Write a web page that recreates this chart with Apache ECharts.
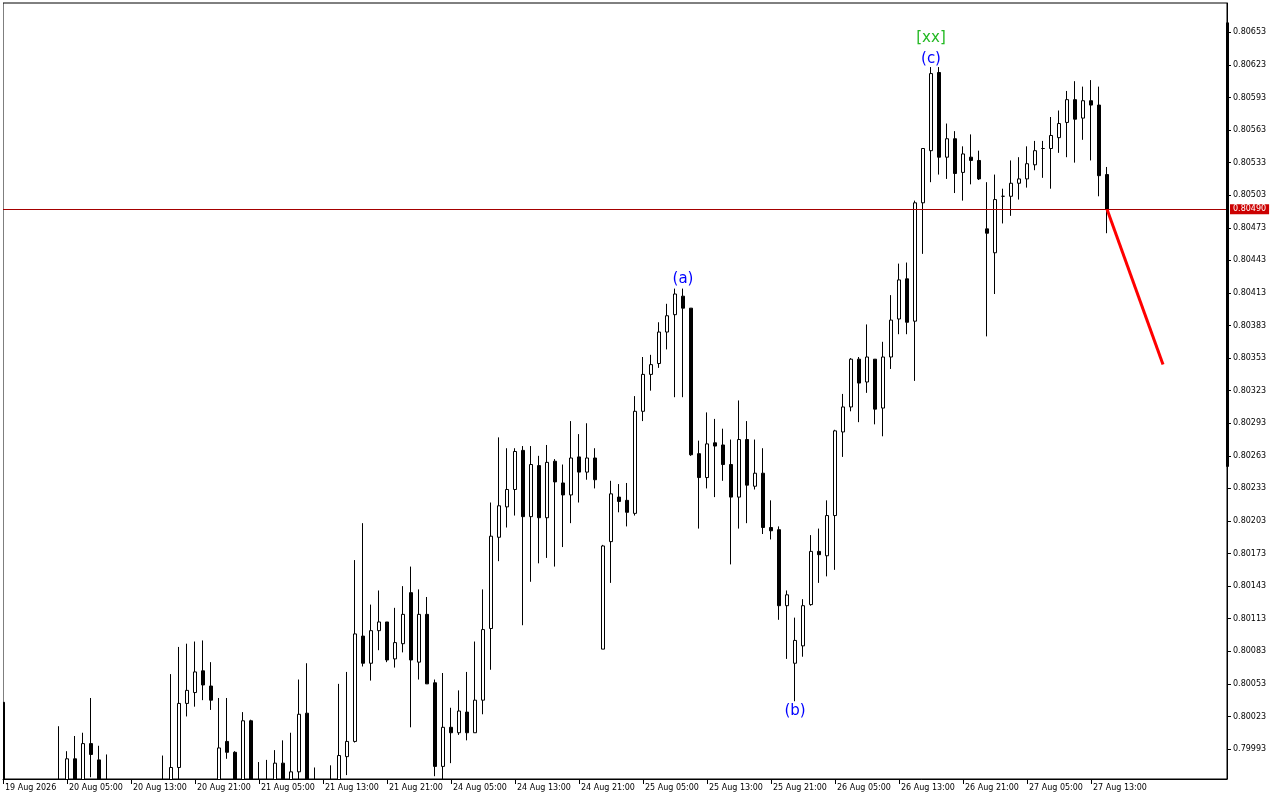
<!DOCTYPE html>
<html>
<head>
<meta charset="utf-8">
<script src="https://cdn.jsdelivr.net/npm/echarts@6/dist/echarts.min.js"></script>
<style>
html,body{margin:0;padding:0;background:#fff;}
#chart{width:1280px;height:800px;}
</style>
</head>
<body>
<div id="chart"></div>
<script>
// ---- data (H1 bars, index 0 = 19 Aug 2026 21:00) ----
const tickLabels = ["19 Aug 2026","20 Aug 05:00","20 Aug 13:00","20 Aug 21:00","21 Aug 05:00","21 Aug 13:00","21 Aug 21:00","24 Aug 05:00","24 Aug 13:00","24 Aug 21:00","25 Aug 05:00","25 Aug 13:00","25 Aug 21:00","26 Aug 05:00","26 Aug 13:00","26 Aug 21:00","27 Aug 05:00","27 Aug 13:00"];
const tickStep = 8;
const slotCount = 154;

const yTickValues = [0.79993,0.80023,0.80053,0.80083,0.80113,0.80143,0.80173,0.80203,0.80233,0.80263,0.80293,0.80323,0.80353,0.80383,0.80413,0.80443,0.80473,0.80503,0.80533,0.80563,0.80593,0.80623,0.80653];

const barOpen = [0.80036,0.79935,0.79920,0.79930,0.79945,0.79935,0.79940,0.79948,0.79955,0.79984,
0.79955,0.79998,0.79983,0.79950,0.79935,0.79925,0.79940,0.79930,0.79920,0.79935,
0.79945,0.79950,0.79976,0.80035,0.80045,0.80065,0.80051,0.79955,0.80000,0.79990,
0.79958,0.80019,0.79955,0.79950,0.79958,0.79980,0.79955,0.79972,0.80026,0.79955,
0.79950,0.79945,0.79955,0.79986,0.80000,0.80097,0.80072,0.80102,0.80110,0.80076,
0.80090,0.80137,0.80073,0.80117,0.80054,0.79977,0.80013,0.80008,0.80027,0.80008,
0.80038,0.80104,0.80188,0.80216,0.80232,0.80268,0.80207,0.80254,0.80206,0.80258,
0.80238,0.80227,0.80262,0.80248,0.80261,0.80085,0.80184,0.80225,0.80222,0.80210,
0.80304,0.80338,0.80348,0.80377,0.80393,0.80410,0.80399,0.80265,0.80243,0.80275,
0.80273,0.80255,0.80225,0.80278,0.80235,0.80247,0.80197,0.80195,0.80125,0.80072,
0.80088,0.80126,0.80175,0.80171,0.80208,0.80285,0.80308,0.80352,0.80331,0.80352,
0.80307,0.80354,0.80389,0.80426,0.80387,0.80496,0.80544,0.80616,0.80538,0.80555,
0.80524,0.80538,0.80535,0.80472,0.80450,0.80502,0.80502,0.80514,0.80518,0.80531,
0.80546,0.80546,0.80556,0.80570,0.80591,0.80574,0.80590,0.80586,0.80522];

const barHigh = [0.80037,0.79950,0.79945,0.79955,0.79958,0.79952,0.79960,0.80014,0.79991,0.80005,
0.80008,0.80040,0.79996,0.79988,0.79955,0.79950,0.79960,0.79948,0.79945,0.79958,
0.79987,0.80062,0.80087,0.80090,0.80092,0.80093,0.80073,0.80040,0.80040,0.79991,
0.80027,0.80020,0.79981,0.79983,0.79992,0.80001,0.80008,0.80057,0.80072,0.79976,
0.79962,0.79978,0.80053,0.80064,0.80167,0.80201,0.80126,0.80139,0.80110,0.80123,
0.80143,0.80161,0.80140,0.80133,0.80057,0.80063,0.80031,0.80047,0.80064,0.80092,
0.80140,0.80220,0.80280,0.80270,0.80270,0.80272,0.80272,0.80263,0.80273,0.80260,
0.80255,0.80295,0.80283,0.80293,0.80270,0.80181,0.80240,0.80237,0.80238,0.80318,
0.80354,0.80356,0.80386,0.80403,0.80417,0.80417,0.80399,0.80277,0.80303,0.80297,
0.80288,0.80278,0.80314,0.80295,0.80278,0.80270,0.80222,0.80198,0.80139,0.80114,
0.80131,0.80190,0.80196,0.80222,0.80287,0.80320,0.80353,0.80354,0.80384,0.80352,
0.80368,0.80411,0.80440,0.80441,0.80498,0.80546,0.80621,0.80621,0.80569,0.80562,
0.80548,0.80559,0.80544,0.80515,0.80522,0.80509,0.80535,0.80538,0.80548,0.80553,
0.80553,0.80575,0.80581,0.80599,0.80608,0.80603,0.80609,0.80603,0.80529];

const barLow = [0.79925,0.79910,0.79905,0.79920,0.79925,0.79920,0.79930,0.79935,0.79945,0.79940,
0.79948,0.79967,0.79940,0.79925,0.79915,0.79905,0.79920,0.79910,0.79900,0.79925,
0.79930,0.79940,0.79955,0.80023,0.80032,0.80038,0.80029,0.79945,0.79984,0.79945,
0.79950,0.79945,0.79935,0.79940,0.79950,0.79945,0.79948,0.79960,0.79945,0.79940,
0.79935,0.79938,0.79948,0.79969,0.79999,0.80069,0.80056,0.80084,0.80073,0.80068,
0.80082,0.80013,0.80057,0.80053,0.79968,0.79960,0.79980,0.80006,0.80001,0.80008,
0.80025,0.80066,0.80166,0.80197,0.80208,0.80107,0.80147,0.80164,0.80169,0.80161,
0.80179,0.80201,0.80220,0.80241,0.80233,0.80085,0.80146,0.80211,0.80198,0.80208,
0.80295,0.80323,0.80344,0.80361,0.80317,0.80317,0.80263,0.80196,0.80233,0.80225,
0.80240,0.80163,0.80196,0.80201,0.80232,0.80191,0.80186,0.80112,0.80076,0.80037,
0.80078,0.80125,0.80146,0.80152,0.80158,0.80262,0.80304,0.80294,0.80321,0.80292,
0.80281,0.80343,0.80375,0.80375,0.80332,0.80449,0.80515,0.80522,0.80518,0.80505,
0.80498,0.80513,0.80517,0.80373,0.80412,0.80477,0.80484,0.80499,0.80510,0.80526,
0.80519,0.80509,0.80542,0.80538,0.80533,0.80554,0.80535,0.80502,0.80468];

const barClose = [0.79935,0.79920,0.79930,0.79945,0.79935,0.79940,0.79948,0.79955,0.79984,0.79955,
0.79998,0.79988,0.79950,0.79935,0.79925,0.79940,0.79930,0.79920,0.79935,0.79945,
0.79950,0.79976,0.80035,0.80047,0.80064,0.80052,0.80038,0.79994,0.79990,0.79955,
0.80019,0.79955,0.79950,0.79958,0.79980,0.79955,0.79972,0.80025,0.79955,0.79950,
0.79945,0.79955,0.79987,0.80000,0.80099,0.80072,0.80102,0.80110,0.80075,0.80091,
0.80117,0.80075,0.80117,0.80053,0.79977,0.80013,0.80008,0.80028,0.80008,0.80038,
0.80103,0.80189,0.80217,0.80232,0.80267,0.80207,0.80255,0.80206,0.80257,0.80239,
0.80227,0.80261,0.80248,0.80261,0.80241,0.80180,0.80228,0.80221,0.80211,0.80304,
0.80338,0.80347,0.80377,0.80392,0.80412,0.80399,0.80264,0.80243,0.80274,0.80272,
0.80255,0.80225,0.80278,0.80236,0.80247,0.80197,0.80194,0.80125,0.80135,0.80093,
0.80125,0.80175,0.80172,0.80208,0.80286,0.80308,0.80352,0.80330,0.80354,0.80306,
0.80354,0.80388,0.80425,0.80386,0.80496,0.80546,0.80615,0.80538,0.80555,0.80523,
0.80541,0.80535,0.80518,0.80468,0.80499,0.80502,0.80514,0.80518,0.80532,0.80544,
0.80546,0.80558,0.80569,0.80591,0.80573,0.80590,0.80586,0.80521,0.80490];

const lastPrice = 0.80490;
const forecastIdx = [138, 145];
const forecastPrice = [0.80490, 0.80347];

const waveText = ["(a)", "(b)", "(c)", "[xx]"];
const waveIdx = [85, 99, 116, 116];
const wavePrice = [0.80426, 0.80028, 0.80628, 0.80648];
const waveColor = ["#0000ff", "#0000ff", "#0000ff", "#22b922"];

const scaleBand = [0.80662, 0.80253];

// ---- build ----
const cats = [];
for (let i = 0; i < slotCount; i++) cats.push(String(i));
const candles = barOpen.map((o, i) => [o, barClose[i], barLow[i], barHigh[i]]);
const lastTick = (tickLabels.length - 1) * tickStep;
const showTick = (idx) => idx % tickStep === 0 && idx <= lastTick;
const FONT = "DejaVu Sans";

const chart = echarts.init(document.getElementById('chart'), null, {renderer: 'canvas'});
chart.setOption({
  animation: false,
  backgroundColor: '#ffffff',
  grid: {left: 3, right: 53, top: 3, bottom: 21, show: true, borderColor: '#000', borderWidth: 1, backgroundColor: '#fff'},
  // white masks outside the plot frame (the plot clips bars at its edges)
  graphic: [
    {type: 'rect', z: 50, silent: true, shape: {x: 0, y: 780, width: 1280, height: 20}, style: {fill: '#fff'}},
    {type: 'rect', z: 50, silent: true, shape: {x: 0, y: 0, width: 3, height: 800}, style: {fill: '#fff'}}
  ],
  xAxis: {
    type: 'category', data: cats, boundaryGap: false, z: 60,
    axisLine: {show: true, lineStyle: {color: '#000', width: 1}},
    axisTick: {show: true, interval: showTick, length: 5, lineStyle: {color: '#000'}},
    axisLabel: {show: true, interval: showTick, align: 'left', margin: 5, padding: [0,0,0,2],
      fontFamily: FONT, fontSize: 8, color: '#000',
      formatter: (v, idx) => tickLabels[Math.round(idx / tickStep)] || ''},
    splitLine: {show: false}
  },
  yAxis: {
    type: 'value', position: 'right', scale: true, z: 60,
    min: 0.799654, max: 0.806800,
    axisLine: {show: true, lineStyle: {color: '#000', width: 1}},
    axisTick: {show: true, length: 4, customValues: yTickValues, lineStyle: {color: '#000'}},
    axisLabel: {show: true, customValues: yTickValues, margin: 6, fontFamily: FONT, fontSize: 8, color: '#000',
      formatter: v => Number(v).toFixed(5)},
    splitLine: {show: false}
  },
  series: [
    {
      type: 'candlestick', data: candles, barWidth: 4, clip: true,
      itemStyle: {color: '#ffffff', color0: '#000000', borderColor: '#000000', borderColor0: '#000000', borderWidth: 1},
      emphasis: {disabled: true}, silent: true, z: 3
    },
    {
      type: 'line', data: forecastIdx.map((x, i) => [x, forecastPrice[i]]),
      symbol: 'none', clip: false, silent: true, z: 5,
      lineStyle: {color: '#ff0000', width: 3},
      markLine: {
        silent: true, symbol: ['none', 'none'], animation: false, precision: 5,
        data: [
          {yAxis: lastPrice, lineStyle: {color: '#a40000', width: 1, type: 'solid'},
           label: {show: true, position: 'end', distance: 3, formatter: lastPrice.toFixed(5),
             backgroundColor: '#cc0000', color: '#ffffff', padding: [1, 3, 1, 3], fontFamily: FONT, fontSize: 8}},
          [{coord: [slotCount - 1, scaleBand[0]], lineStyle: {color: '#000', width: 3, type: 'solid'}, label: {show: false}},
           {coord: [slotCount - 1, scaleBand[1]]}]
        ]
      }
    },
    {
      type: 'scatter', symbolSize: 1, silent: true, z: 6, clip: false,
      itemStyle: {color: 'rgba(0,0,0,0)'},
      emphasis: {disabled: true},
      data: waveText.map((t, i) => ({value: [waveIdx[i], wavePrice[i]], name: t,
        label: {color: waveColor[i], opacity: 1}})),
      label: {show: true, position: 'inside', formatter: p => p.name, fontFamily: FONT, fontSize: 15}
    }
  ]
});
</script>
</body>
</html>
